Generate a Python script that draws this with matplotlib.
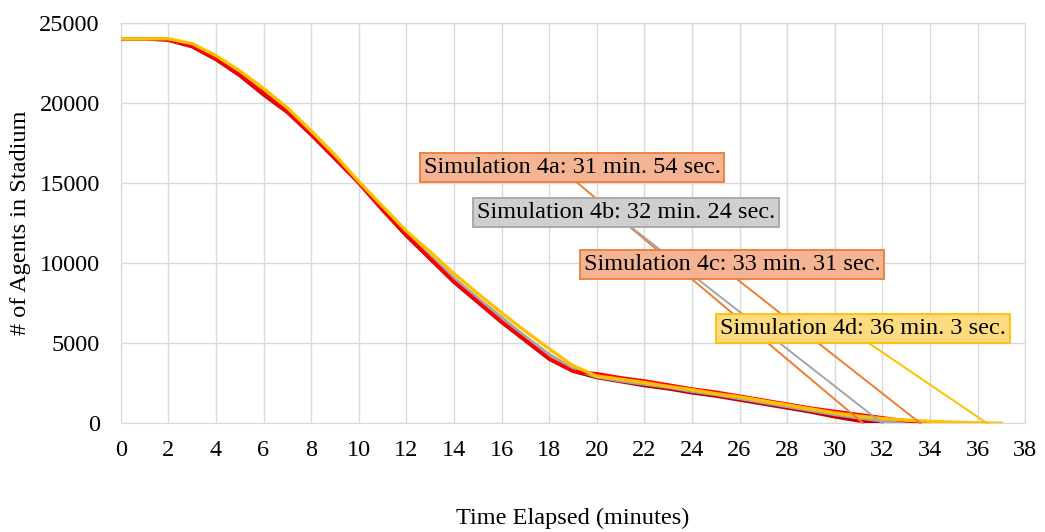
import matplotlib
matplotlib.use('Agg')
import matplotlib.pyplot as plt

plt.rcParams['font.family'] = ['Liberation Serif', 'DejaVu Serif']

# minutes and agents left in the stadium, one value per minute
t_4a = list(range(0, 33))
agents_4a = [24000, 24000, 23900, 23500, 22700, 21700, 20500, 19400, 18000, 16500,
             15000, 13300, 11700, 10250, 8800, 7550, 6300, 5150, 4000, 3250,
             2850, 2600, 2350, 2150, 1900, 1700, 1450, 1200, 950, 700,
             400, 150, 0]
t_4b = list(range(0, 34))
agents_4b = [24000, 24000, 23950, 23600, 22800, 21800, 20700, 19500, 18100, 16600,
             15050, 13450, 11850, 10450, 9050, 7800, 6600, 5400, 4300, 3400,
             2900, 2650, 2450, 2250, 2000, 1800, 1550, 1300, 1050, 800,
             550, 350, 150, 0]
t_4c = list(range(0, 35))
agents_4c = [24000, 24000, 23950, 23550, 22750, 21750, 20600, 19450, 18050, 16550,
             15000, 13350, 11750, 10300, 8850, 7600, 6350, 5200, 4050, 3250,
             3100, 2850, 2650, 2400, 2150, 1950, 1700, 1450, 1200, 950,
             750, 550, 350, 150, 0]
t_4d = list(range(0, 38))
agents_4d = [24000, 24000, 24000, 23700, 22950, 22000, 20900, 19700, 18250, 16750,
             15100, 13550, 12000, 10700, 9350, 8100, 6900, 5750, 4650, 3600,
             2950, 2750, 2550, 2300, 2100, 1850, 1650, 1400, 1150, 900,
             650, 450, 300, 200, 120, 70, 30, 0]

labels = ['Simulation 4a: 31 min. 54 sec.', 'Simulation 4b: 32 min. 24 sec.',
          'Simulation 4c: 33 min. 31 sec.', 'Simulation 4d: 36 min. 3 sec.']
label_x = [18.96, 21.23, 25.68, 31.19]
label_y = [15950, 13150, 9900, 5900]
leader_x = [31.2, 32.0, 33.6, 36.4]

line_cols = ['#C00000', '#A5A5A5', '#FF0000', '#FFC000']
box_fill = ['#F4B493', '#CFCFCF', '#F4B493', '#FFDB80']
box_edge = ['#ED7D31', '#A5A5A5', '#ED7D31', '#FFC000']

fig = plt.figure(figsize=(10.45, 5.32), dpi=100)
ax = fig.add_axes([0.1155, 0.2043, 0.8655, 0.753])

for tt, yy, c in zip([t_4a, t_4b, t_4c, t_4d], [agents_4a, agents_4b, agents_4c, agents_4d], line_cols):
    ax.plot(tt, yy, color=c, lw=2.4, solid_joinstyle='round', zorder=3)

for i in range(4):
    ax.annotate(labels[i], xy=(leader_x[i], 0), xytext=(label_x[i], label_y[i]),
                ha='center', va='center', fontsize=17.5, zorder=5,
                bbox=dict(boxstyle='square,pad=0.16', fc=box_fill[i], ec=box_edge[i], lw=1.3),
                arrowprops=dict(arrowstyle='-', color=box_edge[i], lw=1.4,
                                relpos=(0.5, 0), shrinkA=0, shrinkB=0))

ax.set_xlim(0, 38)
ax.set_ylim(0, 25000)
ax.set_xticks(range(0, 39, 2))
ax.set_yticks(range(0, 25001, 5000))
ax.grid(True, color='#D9D9D9', lw=1)
ax.set_axisbelow(True)
for s in ax.spines.values():
    s.set_color('#D9D9D9')
ax.tick_params(axis='y', length=0, labelsize=17.5, pad=15)
ax.tick_params(axis='x', length=0, labelsize=17.5, pad=12)
ax.set_xlabel('Time Elapsed (minutes)', fontsize=17.5, labelpad=34)
ax.set_ylabel('# of Agents in Stadium', fontsize=17.5, labelpad=6)

plt.savefig('out.png', dpi=100)
